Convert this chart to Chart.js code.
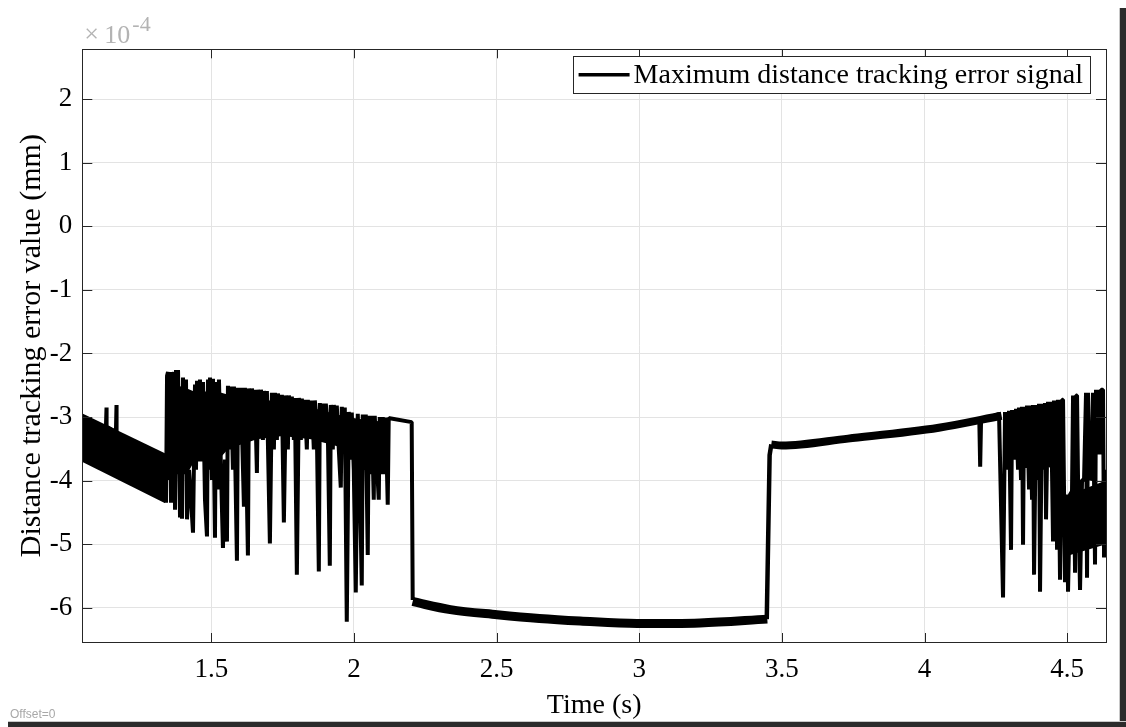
<!DOCTYPE html>
<html lang="en">
<head>
    <meta charset="UTF-8">
    <title>Distance tracking error</title>
    <script src="https://cdn.jsdelivr.net/npm/chart.js@4.4.1/dist/chart.umd.min.js"></script>
    <style>
        html, body {
            margin: 0;
            padding: 0;
            background: #fff;
        }
        #wrap {
            position: relative;
            width: 1126px;
            height: 727px;
            overflow: hidden;
        }
        #chart {
            position: absolute;
            left: 0;
            top: 0;
        }
        .edgeRight {
            position: absolute;
            left: 1119px;
            top: 8px;
            width: 7px;
            height: 719px;
            background: #2b2b2b;
            border-left: 1px solid #c8c8c8;
        }
        .edgeBottom {
            position: absolute;
            left: 8px;
            top: 721px;
            width: 1118px;
            height: 6px;
            background: #2b2b2b;
            border-top: 1px solid #c8c8c8;
        }
        .offset {
            position: absolute;
            left: 10px;
            top: 707px;
            font: 12px "Liberation Sans", Arial, sans-serif;
            color: #a8a8a8;
        }
    </style>
</head>
<body>
<div id="wrap">
    <canvas id="chart" width="1126" height="727"></canvas>
    <div class="offset">Offset=0</div>
    <div class="edgeRight"></div>
    <div class="edgeBottom"></div>
</div>

<script>
    // values in units of 1e-4 mm, time in s
    const xTicks = [1.5, 2, 2.5, 3, 3.5, 4, 4.5];
    const yTicks = [-6, -5, -4, -3, -2, -1, 0, 1, 2];

    // dense oscillation band at the start
    const bandTime = [1.048, 1.339];
    const bandUpper = [-2.97, -3.60];
    const bandLower = [-3.68, -4.33];
    const bandSpikeTime = [1.130, 1.132, 1.134, 1.165, 1.167, 1.169];
    const bandSpikeValue = [-3.15, -2.85, -3.15, -3.23, -2.81, -3.23];

    // solid core under the chattering (left part)
    const coreLeftTime = [1.345, 1.415, 1.44, 1.52, 1.56, 1.66, 1.75, 1.85, 1.975, 2.05, 2.12];
    const coreLeftUpper = [-2.45, -2.55, -2.60, -2.60, -2.65, -2.70, -2.78, -2.85, -3.00, -3.05, -3.08];
    const coreLeftLower = [-3.90, -3.90, -3.70, -3.70, -3.50, -3.35, -3.30, -3.35, -3.50, -3.90, -3.90];

    // chattering part before the drop
    const noiseLeftTime = [1.3415,1.345,1.3485,1.352,1.3555,1.359,1.3625,1.366,1.3695,1.373,
        1.3765,1.380,1.3835,1.3905,1.394,1.3975,1.401,1.408,1.4115,1.415,
        1.422,1.429,1.436,1.443,1.4465,1.450,1.457,1.4605,1.4675,1.471,
        1.478,1.485,1.4885,1.492,1.4955,1.5025,1.506,1.513,1.5165,1.5235,
        1.527,1.534,1.541,1.548,1.555,1.5585,1.5655,1.569,1.576,1.5795,
        1.590,1.5935,1.6005,1.604,1.6145,1.618,1.6285,1.632,1.639,1.6425,
        1.6495,1.653,1.660,1.6635,1.6705,1.674,1.681,1.6845,1.6915,1.695,
        1.7055,1.7125,1.7195,1.723,1.730,1.7335,1.744,1.7475,1.7545,1.7615,
        1.7685,1.772,1.779,1.7825,1.7895,1.793,1.800,1.807,1.814,1.8175,
        1.8245,1.828,1.835,1.8385,1.849,1.8525,1.8595,1.863,1.870,1.877,
        1.8805,1.8875,1.891,1.898,1.9015,1.9085,1.9155,1.919,1.926,1.9295,
        1.9365,1.940,1.947,1.954,1.9575,1.9645,1.968,1.975,1.982,1.989,
        1.9925,1.9995,2.0065,2.0135,2.0205,2.0275,2.031,2.038,2.0415,2.0485,
        2.052,2.059,2.0625,2.0695,2.073,2.080,2.087,2.0905,2.0975,2.101,
        2.108,2.1115,2.1185,2.122,2.1255,2.2025,2.206];
    const noiseLeftValue = [-4.35,-2.35,-2.29,-3.99,-2.29,-4.35,-2.30,-3.51,-2.29,-4.46,
        -2.26,-2.62,-2.26,-4.58,-2.62,-4.60,-2.38,-3.83,-2.41,-4.61,
        -3.83,-4.30,-4.82,-2.49,-3.83,-2.43,-3.20,-2.41,-3.51,-2.45,
        -4.30,-4.88,-2.41,-3.83,-2.38,-3.99,-2.40,-4.90,-2.45,-4.14,
        -2.41,-3.83,-5.06,-3.67,-4.96,-2.51,-3.51,-2.52,-3.83,-2.52,
        -5.26,-2.54,-3.36,-2.54,-4.41,-2.54,-5.18,-2.55,-3.36,-2.55,
        -3.20,-2.57,-3.88,-2.57,-3.20,-2.57,-3.36,-2.59,-3.04,-2.59,
        -4.99,-2.62,-3.51,-2.62,-3.36,-2.63,-3.20,-2.65,-4.66,-2.66,
        -3.51,-2.66,-3.20,-2.68,-3.36,-2.70,-5.48,-2.70,-3.36,-2.71,
        -3.20,-2.73,-3.51,-2.73,-3.20,-2.74,-3.51,-2.74,-3.20,-5.43,
        -2.78,-3.36,-2.79,-3.36,-2.79,-3.20,-5.34,-2.81,-3.51,-2.81,
        -3.20,-2.82,-3.51,-4.11,-2.84,-3.36,-2.85,-6.22,-2.92,-3.67,
        -2.93,-3.83,-5.76,-2.95,-3.99,-5.65,-2.96,-3.83,-2.96,-5.17,
        -2.98,-3.83,-2.98,-4.30,-2.98,-3.67,-4.30,-3.00,-3.51,-3.00,
        -3.83,-3.01,-4.38,-3.01,-3.02,-3.08,-5.88];

    // low plateau
    const curveTime = [2.206, 2.25, 2.338, 2.502, 2.65, 2.793, 2.993, 3.213, 3.449];
    const curveValue = [-5.90, -5.95, -6.03, -6.11, -6.17, -6.21, -6.25, -6.24, -6.18];

    // jump back up and slow rise
    const riseTime = [3.447, 3.457, 3.463];
    const riseValue = [-6.18, -3.60, -3.43];
    const trendTime = [3.463, 3.50, 3.732, 4.05, 4.27];
    const trendValue = [-3.43, -3.45, -3.34, -3.17, -2.98];

    // solid core under the chattering (right part)
    const coreRightTime = [4.275, 4.31, 4.36, 4.40, 4.44, 4.485];
    const coreRightUpper = [-3.00, -2.95, -2.90, -2.87, -2.83, -2.80];
    const coreRightLower = [-3.30, -3.50, -3.60, -3.70, -3.80, -4.00];
    const coreEndTime = [4.49, 4.636];
    const coreEndUpper = [-4.25, -4.00];
    const coreEndLower = [-5.20, -5.00];

    // chattering part at the end
    const noiseRightTime = [4.192,4.195,4.198,4.2611,4.2751,4.2821,4.2926,4.2961,4.3031,4.3067,
        4.3137,4.3207,4.3277,4.3312,4.3382,4.3417,4.3452,4.3487,4.3557,4.3592,
        4.3662,4.3697,4.3768,4.3803,4.3838,4.3908,4.3978,4.4013,4.4048,4.4118,
        4.4188,4.4223,4.4258,4.4328,4.4398,4.4433,4.4504,4.4539,4.4574,4.4609,
        4.4644,4.4679,4.4749,4.4819,4.4854,4.4924,4.4994,4.5029,4.5099,4.5169,
        4.5205,4.5275,4.5310,4.5345,4.5380,4.5450,4.5520,4.5590,4.5660,4.5695,
        4.5730,4.5800,4.5870,4.5905,4.5975,4.6010,4.6080,4.6115,4.6151,4.6186,
        4.6256,4.6291,4.6361];
    const noiseRightValue = [-3.07,-3.78,-3.07,-2.95,-5.84,-2.92,-3.83,-2.90,-5.09,-2.89,
        -3.67,-2.87,-3.83,-2.85,-3.99,-2.84,-5.01,-2.84,-3.80,-2.82,
        -4.14,-2.82,-4.30,-2.81,-5.48,-2.81,-3.99,-2.79,-5.75,-2.79,
        -3.83,-2.78,-4.61,-2.76,-3.56,-2.76,-4.96,-2.74,-3.83,-2.74,
        -5.09,-2.73,-5.56,-2.73,-2.73,-5.60,-4.22,-5.75,-4.22,-4.17,
        -2.66,-5.45,-2.66,-2.66,-3.99,-5.72,-3.99,-3.99,-2.62,-5.53,
        -2.62,-3.99,-3.94,-2.62,-5.32,-2.57,-3.59,-2.57,-3.59,-2.57,
        -2.57,-5.21,-3.83];

    const legendLabel = 'Maximum distance tracking error signal';
    const xTitle = 'Time (s)';
    const yTitle = 'Distance tracking error value (mm)';

    const serif = '"Liberation Serif", "Times New Roman", serif';

    function pts(times, values) {
        return times.map((t, i) => ({ x: t, y: values[i] }));
    }

    function line(data, width, extra) {
        return Object.assign({
            data: data,
            borderColor: '#000',
            backgroundColor: '#000',
            borderWidth: width,
            pointRadius: 0,
            tension: 0,
            fill: false,
            borderJoinStyle: 'bevel'
        }, extra || {});
    }

    // inward ticks and box like the matlab axes
    const axesBox = {
        id: 'axesBox',
        afterDatasetsDraw(chart) {
            const { ctx, chartArea: a, scales } = chart;
            ctx.save();
            ctx.strokeStyle = '#262626';
            ctx.lineWidth = 1;
            ctx.strokeRect(Math.round(a.left) + 0.5, Math.round(a.top) + 0.5,
                Math.round(a.right - a.left), Math.round(a.bottom - a.top));
            ctx.beginPath();
            xTicks.forEach(v => {
                const px = Math.round(scales.x.getPixelForValue(v)) + 0.5;
                ctx.moveTo(px, a.bottom); ctx.lineTo(px, a.bottom - 9);
                ctx.moveTo(px, a.top); ctx.lineTo(px, a.top + 9);
            });
            yTicks.forEach(v => {
                const py = Math.round(scales.y.getPixelForValue(v)) + 0.5;
                ctx.moveTo(a.left, py); ctx.lineTo(a.left + 10, py);
                ctx.moveTo(a.right, py); ctx.lineTo(a.right - 10, py);
            });
            ctx.stroke();

            // legend
            ctx.font = '28px ' + serif;
            const tw = ctx.measureText(legendLabel).width;
            const w = 62 + tw + 6;
            const h = 37;
            const x = a.right - 16 - w;
            const y = a.top + 7;
            ctx.fillStyle = '#fff';
            ctx.fillRect(x, y, w, h);
            ctx.strokeStyle = '#262626';
            ctx.strokeRect(Math.round(x) + 0.5, Math.round(y) + 0.5, Math.round(w), h);
            ctx.beginPath();
            ctx.lineWidth = 3.5;
            ctx.strokeStyle = '#000';
            ctx.moveTo(x + 6, y + h / 2);
            ctx.lineTo(x + 57, y + h / 2);
            ctx.stroke();
            ctx.fillStyle = '#000';
            ctx.textBaseline = 'middle';
            ctx.textAlign = 'left';
            ctx.fillText(legendLabel, x + 61, y + h / 2 + 1);
            ctx.restore();
        },
        afterDraw(chart) {
            const { ctx, chartArea: a } = chart;
            ctx.save();
            ctx.fillStyle = '#b3b3b3';
            ctx.textBaseline = 'alphabetic';
            ctx.textAlign = 'left';
            ctx.font = '26px ' + serif;
            ctx.fillText('\u00d7', a.left + 2, 42);
            ctx.fillText('10', a.left + 22, 43);
            ctx.font = '22px ' + serif;
            ctx.fillText('-4', a.left + 50, 31);
            ctx.restore();
        }
    };

    const ctx = document.getElementById('chart').getContext('2d');
    new Chart(ctx, {
        type: 'line',
        data: {
            datasets: [
                line(pts(bandTime, bandUpper), 3, { fill: '+1' }),
                line(pts(bandTime, bandLower), 3),
                line(pts(coreLeftTime, coreLeftUpper), 0, { fill: '+1' }),
                line(pts(coreLeftTime, coreLeftLower), 0),
                line(pts(coreRightTime, coreRightUpper), 0, { fill: '+1' }),
                line(pts(coreRightTime, coreRightLower), 0),
                line(pts(coreEndTime, coreEndUpper), 0, { fill: '+1' }),
                line(pts(coreEndTime, coreEndLower), 0),
                line(pts(bandSpikeTime, bandSpikeValue), 3.5),
                line(pts(noiseLeftTime, noiseLeftValue), 4, { label: legendLabel }),
                line(pts(curveTime, curveValue), 9, { cubicInterpolationMode: 'monotone' }),
                line(pts(riseTime, riseValue), 4.5),
                line(pts(trendTime, trendValue), 8, { cubicInterpolationMode: 'monotone' }),
                line(pts(noiseRightTime, noiseRightValue), 4)
            ]
        },
        options: {
            responsive: false,
            animation: false,
            events: [],
            layout: { padding: { top: 49.3, right: 20, left: 0, bottom: 0 } },
            plugins: {
                legend: { display: false },
                tooltip: { enabled: false }
            },
            scales: {
                x: {
                    type: 'linear',
                    min: 1.048,
                    max: 4.636,
                    afterFit(scale) { scale.height = 85; },
                    afterBuildTicks(scale) { scale.ticks = xTicks.map(v => ({ value: v })); },
                    grid: { color: '#e3e3e3', drawTicks: false },
                    border: { display: false },
                    ticks: {
                        padding: 12,
                        color: '#000',
                        font: { family: serif, size: 27 },
                        maxRotation: 0,
                        callback: v => String(v)
                    },
                    title: {
                        display: true,
                        text: xTitle,
                        color: '#000',
                        font: { family: serif, size: 28 },
                        padding: { top: 0, bottom: 5 }
                    }
                },
                y: {
                    min: -6.54,
                    max: 2.786,
                    afterFit(scale) { scale.width = 82.3; },
                    afterBuildTicks(scale) { scale.ticks = yTicks.map(v => ({ value: v })); },
                    grid: { color: '#e3e3e3', drawTicks: false },
                    border: { display: false },
                    ticks: {
                        padding: 10,
                        color: '#000',
                        font: { family: serif, size: 27 },
                        callback: v => String(v)
                    },
                    title: {
                        display: true,
                        text: yTitle,
                        color: '#000',
                        font: { family: serif, size: 30 },
                        padding: { top: 14, bottom: 0 }
                    }
                }
            }
        },
        plugins: [axesBox]
    });
</script>
</body>
</html>
